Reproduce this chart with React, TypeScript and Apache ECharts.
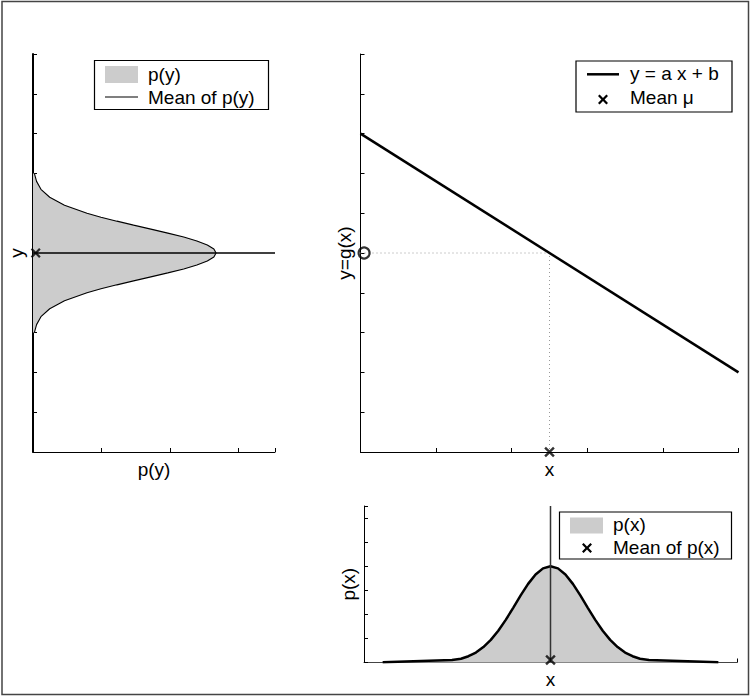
import React, { useEffect, useRef } from 'react';
import * as echarts from 'echarts';

// ---- data ----
// left panel: p(y) drawn sideways
const pyY = [3.0, 3.2, 3.4, 3.6, 3.8, 4.0, 4.1, 4.2, 4.3, 4.4, 4.5, 4.6, 4.7, 4.8, 4.9, 5.0, 5.1, 5.2, 5.3, 5.4, 5.5, 5.6, 5.7, 5.8, 5.9, 6.0, 6.2, 6.4, 6.6, 6.8, 7.0];
const pyP = [0.005, 0.013, 0.029, 0.061, 0.115, 0.197, 0.248, 0.306, 0.367, 0.43, 0.492, 0.55, 0.598, 0.636, 0.66, 0.668, 0.66, 0.636, 0.598, 0.55, 0.492, 0.43, 0.367, 0.306, 0.248, 0.197, 0.115, 0.061, 0.029, 0.013, 0.005];
const meanY = 5;
const pyAxisMax = 0.883;
const pyTickStep = 0.25;
const yAxisMax = 10;

// top-right panel: y = a x + b
const lineX = [0, 5];
const lineY = [8, 2];
const meanX = 2.5;
const xAxisMax = 5;

// bottom panel: p(x)
const pxX = [0.25, 1.18, 1.3, 1.4, 1.5, 1.6, 1.7, 1.8, 1.9, 2.0, 2.1, 2.2, 2.3, 2.4, 2.5, 2.6, 2.7, 2.8, 2.9, 3.0, 3.1, 3.2, 3.3, 3.4, 3.5, 3.6, 3.7, 3.82, 4.75];
const pxP = [0.002, 0.02, 0.031, 0.052, 0.083, 0.128, 0.188, 0.264, 0.354, 0.454, 0.557, 0.653, 0.731, 0.782, 0.8, 0.782, 0.731, 0.653, 0.557, 0.454, 0.354, 0.264, 0.188, 0.128, 0.083, 0.052, 0.031, 0.02, 0.002];
const pxAxisMax = 1.3;
const pxTickStep = 0.2;

const FONT = "'Liberation Sans', Arial, Helvetica, sans-serif";
const FS = 19;
const CROSS = 'path://M1.6,0L5,3.4L8.4,0L10,1.6L6.6,5L10,8.4L8.4,10L5,6.6L1.6,10L0,8.4L3.4,5L0,1.6Z';

function crossPts(cx: number, cy: number, s: number) {
  const k = s / 10;
  const raw = [[1.6, 0], [5, 3.4], [8.4, 0], [10, 1.6], [6.6, 5], [10, 8.4], [8.4, 10], [5, 6.6], [1.6, 10], [0, 8.4], [3.4, 5], [0, 1.6]];
  return raw.map(([x, y]) => [cx + (x - 5) * k, cy + (y - 5) * k]);
}

const nameStyle = { fontFamily: FONT, fontSize: FS, color: '#000' };

function axisBase(extra: any) {
  return {
    type: 'value',
    axisLine: { show: true, onZero: false, lineStyle: { color: '#000', width: 1 } },
    axisTick: { show: true, inside: true, length: 4, lineStyle: { color: '#000', width: 1 } },
    axisLabel: { show: false },
    splitLine: { show: false },
    nameTextStyle: nameStyle,
    nameLocation: 'middle',
    ...extra,
  };
}

export default function App() {
  const ref = useRef<HTMLDivElement>(null);
  useEffect(() => {
    if (!ref.current) return;
    const chart = echarts.init(ref.current, null, { renderer: 'svg' });
    const pyData = pyP.map((p, i) => [p, pyY[i]]);
    const pxData = pxX.map((x, i) => [x, pxP[i]]);
    const textStyle = (text: string) => ({ text, font: `${FS}px ${FONT}`, fill: '#000', verticalAlign: 'middle', textAlign: 'left' });

    const option: any = {
      animation: false,
      backgroundColor: '#fff',
      grid: [
        { left: 33, top: 54, width: 242, height: 398 },
        { left: 360.5, top: 54, width: 378, height: 398 },
        { left: 364, top: 506, width: 373, height: 156.5 },
      ],
      xAxis: [
        axisBase({ gridIndex: 0, min: 0, max: pyAxisMax, interval: pyTickStep, name: 'p(y)', nameGap: 8 }),
        axisBase({ gridIndex: 1, min: 0, max: xAxisMax, interval: 1, name: 'x', nameGap: 7.5 }),
        axisBase({ gridIndex: 2, min: 0, max: xAxisMax, interval: xAxisMax, name: 'x', nameGap: 7,
          axisLine: { show: true, onZero: false, lineStyle: { color: '#444', width: 1 } } }),
      ],
      yAxis: [
        axisBase({ gridIndex: 0, min: 0, max: yAxisMax, interval: 1, name: 'y', nameGap: 7,
          axisLine: { show: true, onZero: false, lineStyle: { color: '#000', width: 2 } } }),
        axisBase({ gridIndex: 1, min: 0, max: yAxisMax, interval: 1, name: 'y=g(x)', nameGap: 6.5 }),
        axisBase({ gridIndex: 2, min: 0, max: pxAxisMax, interval: pxTickStep, name: 'p(x)', nameGap: 6.5 }),
      ],
      series: [
        // left panel fill
        {
          type: 'custom', name: 'p(y)', xAxisIndex: 0, yAxisIndex: 0, data: pyData, encode: { x: 0, y: 1 }, z: 1,
          renderItem: (params: any, api: any) => {
            if (params.dataIndex !== 0) return { type: 'group', children: [] };
            const pts = pyData.map((d) => api.coord(d));
            pts.unshift(api.coord([0, pyY[0]]));
            pts.push(api.coord([0, pyY[pyY.length - 1]]));
            return { type: 'polygon', shape: { points: pts }, style: { fill: '#cccccc', stroke: 'none' } };
          },
        },
        {
          type: 'line', xAxisIndex: 0, yAxisIndex: 0, data: pyData, showSymbol: false, symbol: 'none', z: 3,
          lineStyle: { color: '#000', width: 1.1 },
        },
        {
          type: 'line', name: 'Mean of p(y)', xAxisIndex: 0, yAxisIndex: 0, data: [[0, meanY], [pyAxisMax, meanY]],
          showSymbol: false, symbol: 'none', z: 4, lineStyle: { color: '#000', width: 1.3 },
        },
        {
          type: 'scatter', xAxisIndex: 0, yAxisIndex: 0, data: [[0, meanY]], symbol: CROSS, symbolSize: 10,
          symbolOffset: [2.7, 0], itemStyle: { color: '#000' }, clip: false, z: 5,
        },
        // top-right panel
        {
          type: 'line', xAxisIndex: 1, yAxisIndex: 1,
          data: [[0, meanY], [meanX, meanY], [meanX, 0]],
          showSymbol: false, symbol: 'none', z: 2, lineStyle: { color: '#999', width: 1, type: [1, 3] },
        },
        {
          type: 'line', name: 'y = a x + b', xAxisIndex: 1, yAxisIndex: 1, data: lineX.map((x, i) => [x, lineY[i]]),
          showSymbol: false, symbol: 'none', z: 3, lineStyle: { color: '#000', width: 2.5 },
        },
        {
          type: 'scatter', xAxisIndex: 1, yAxisIndex: 1, data: [[0, meanY]], symbol: 'circle', symbolSize: 11,
          symbolOffset: [3.6, 0], clip: false, z: 5,
          itemStyle: { color: 'rgba(0,0,0,0)', borderColor: '#000', borderWidth: 2.2 },
        },
        {
          type: 'scatter', name: 'Mean μ', xAxisIndex: 1, yAxisIndex: 1, data: [[meanX, 0]], symbol: CROSS, symbolSize: 10.5,
          itemStyle: { color: '#000' }, clip: false, z: 5,
        },
        // bottom panel
        {
          type: 'line', name: 'p(x)', xAxisIndex: 2, yAxisIndex: 2, data: pxData, showSymbol: false, symbol: 'none', z: 2,
          lineStyle: { color: '#000', width: 2.5 }, areaStyle: { color: '#cccccc', opacity: 1 },
        },
        {
          type: 'line', xAxisIndex: 2, yAxisIndex: 2, data: [[meanX, 0], [meanX, pxAxisMax]], showSymbol: false, symbol: 'none', z: 3,
          lineStyle: { color: '#333', width: 1.5 },
        },
        {
          type: 'scatter', name: 'Mean of p(x)', xAxisIndex: 2, yAxisIndex: 2, data: [[meanX, 0]], symbol: CROSS, symbolSize: 10.5,
          symbolOffset: [0, -2.5], itemStyle: { color: '#000' }, clip: false, z: 5,
        },
      ],
      graphic: [
        { type: 'rect', silent: true, z: 0, shape: { x: 2, y: 1.5, width: 746.5, height: 693 }, style: { fill: 'none', stroke: '#444', lineWidth: 1.5 } },
        // left legend
        { type: 'rect', z: 10, shape: { x: 94.5, y: 60.5, width: 174, height: 49 }, style: { fill: '#fff', stroke: '#000', lineWidth: 1.2 } },
        { type: 'rect', z: 11, shape: { x: 105, y: 66, width: 33, height: 17 }, style: { fill: '#cccccc' } },
        { type: 'text', z: 11, x: 148, y: 74, style: textStyle('p(y)') },
        { type: 'line', z: 11, shape: { x1: 105, y1: 97, x2: 138, y2: 97 }, style: { stroke: '#000', lineWidth: 1.2 } },
        { type: 'text', z: 11, x: 148, y: 97.3, style: textStyle('Mean of p(y)') },
        // top-right legend
        { type: 'rect', z: 10, shape: { x: 576, y: 61, width: 156, height: 51 }, style: { fill: '#fff', stroke: '#000', lineWidth: 1.2 } },
        { type: 'line', z: 11, shape: { x1: 587, y1: 74.3, x2: 619, y2: 74.3 }, style: { stroke: '#000', lineWidth: 2.5 } },
        { type: 'text', z: 11, x: 630, y: 73.7, style: textStyle('y = a x + b') },
        { type: 'polygon', z: 11, shape: { points: crossPts(603, 99.5, 10) }, style: { fill: '#000' } },
        { type: 'text', z: 11, x: 630, y: 97.3, style: textStyle('Mean μ') },
        // bottom legend
        { type: 'rect', z: 10, shape: { x: 559.5, y: 512, width: 172, height: 47 }, style: { fill: '#fff', stroke: '#000', lineWidth: 1.2 } },
        { type: 'rect', z: 11, shape: { x: 570, y: 517.5, width: 33, height: 16 }, style: { fill: '#cccccc' } },
        { type: 'text', z: 11, x: 613, y: 524.5, style: textStyle('p(x)') },
        { type: 'polygon', z: 11, shape: { points: crossPts(587, 548, 10) }, style: { fill: '#000' } },
        { type: 'text', z: 11, x: 613, y: 547.6, style: textStyle('Mean of p(x)') },
      ],
    };
    chart.setOption(option);
    return () => chart.dispose();
  }, []);
  return (
    <div
      ref={ref}
      style={{ position: 'fixed', left: 0, top: 0, width: 752, height: 698, background: '#fff' }}
    />
  );
}
